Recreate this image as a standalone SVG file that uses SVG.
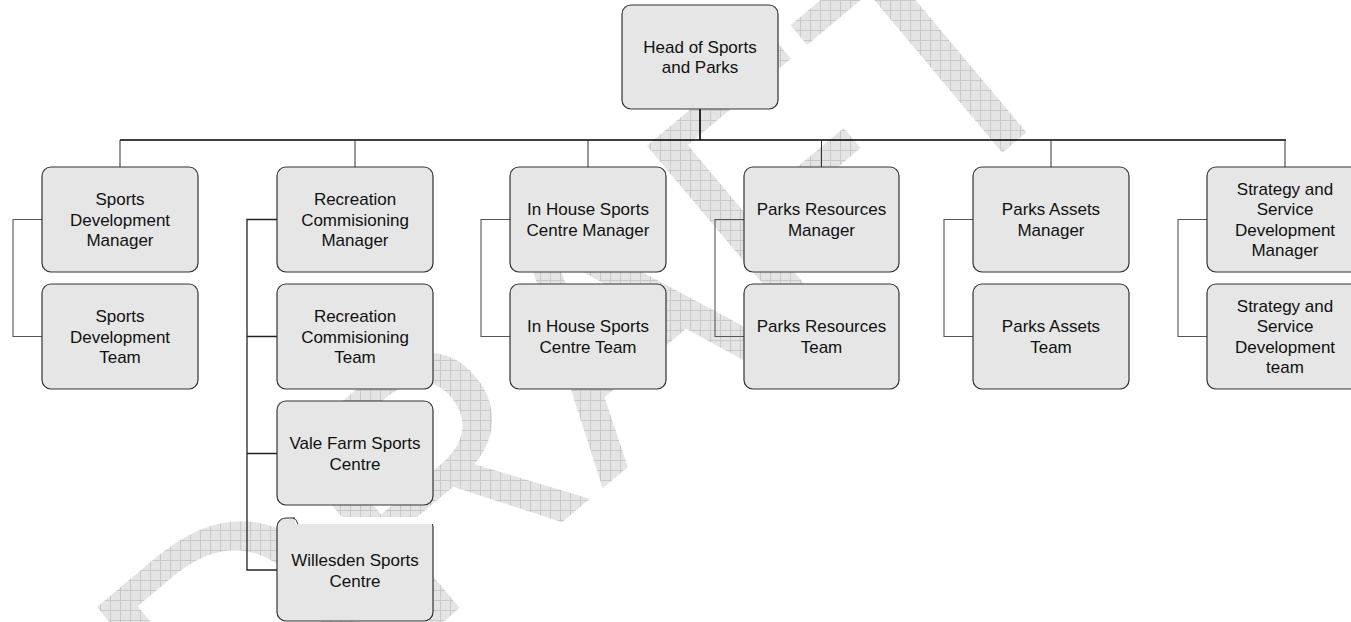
<svg xmlns="http://www.w3.org/2000/svg" width="1351" height="622" viewBox="0 0 1351 622">
<defs>
<pattern id="grid" width="10" height="10" patternUnits="userSpaceOnUse" patternTransform="rotate(40)">
<rect width="10" height="10" fill="#e4e4e4"/>
<path d="M0 0.5H10M0.5 0V10" stroke="#c9c9c9" stroke-width="1"/>
</pattern>
<style>
.box{fill:#e6e6e6;stroke:#333;stroke-width:1.2}
.lbl{font-family:"Liberation Sans",Arial,sans-serif;font-size:17px;fill:#111;text-anchor:middle}
.trunk{stroke:#000;stroke-width:1.6;fill:none}
.drop{stroke:#333;stroke-width:1;fill:none}
.side{stroke:#555;stroke-width:1.1;fill:none}
.wm{font-family:"Liberation Sans",Arial,sans-serif;font-size:340px;fill:url(#grid)}
</style>
</defs>
<rect width="1351" height="622" fill="#fff"/>
<g id="watermark">
<text class="wm" x="0" y="0" text-anchor="middle" transform="translate(660,440) rotate(-40)">DRAFT</text>
</g>
<g id="connectors">
<path class="trunk" d="M700 109V140M120 140H1286"/>
<path class="drop" d="M120 140V167M355 140V167M588 140V167M821.5 140V167M1051 140V167M1285 140V167"/>
<path class="side" d="M42 219.5H13V336.5H42"/>
<path class="side" style="stroke:#222;stroke-width:1.3" d="M277 219.5H247V570H277M247 336.5H277M247 453.5H277"/>
<path class="side" d="M510 219.5H481V336.5H510"/>
<path class="side" d="M744 219.5H715V336.5H744"/>
<path class="side" d="M973 219.5H944V336.5H973"/>
<path class="side" d="M1207 219.5H1178V336.5H1207"/>
</g>
<g id="n-head"><rect class="box" x="622" y="5" width="156" height="104" rx="9"/>
<text class="lbl" x="700" y="52.5">Head of Sports</text><text class="lbl" x="700" y="73">and Parks</text></g>

<g id="n-sdm"><rect class="box" x="42" y="167" width="156" height="105" rx="9"/>
<text class="lbl" x="120" y="205">Sports</text><text class="lbl" x="120" y="225.5">Development</text><text class="lbl" x="120" y="246">Manager</text></g>
<g id="n-sdt"><rect class="box" x="42" y="284" width="156" height="105" rx="9"/>
<text class="lbl" x="120" y="322">Sports</text><text class="lbl" x="120" y="342.5">Development</text><text class="lbl" x="120" y="363">Team</text></g>

<g id="n-rcm"><rect class="box" x="277" y="167" width="156" height="105" rx="9"/>
<text class="lbl" x="355" y="205">Recreation</text><text class="lbl" x="355" y="225.5">Commisioning</text><text class="lbl" x="355" y="246">Manager</text></g>
<g id="n-rct"><rect class="box" x="277" y="284" width="156" height="105" rx="9"/>
<text class="lbl" x="355" y="322">Recreation</text><text class="lbl" x="355" y="342.5">Commisioning</text><text class="lbl" x="355" y="363">Team</text></g>
<g id="n-vale"><rect class="box" x="277" y="401" width="156" height="104" rx="9"/>
<text class="lbl" x="355" y="449">Vale Farm Sports</text><text class="lbl" x="355" y="469.5">Centre</text></g>
<g id="n-willesden"><rect class="box" x="277" y="518" width="156" height="103" rx="9"/>
<rect x="295" y="517" width="141" height="7" fill="#fff"/>
<path d="M293 518Q296 518 298 524" stroke="#333" stroke-width="1" fill="none"/>
<text class="lbl" x="355" y="566">Willesden Sports</text><text class="lbl" x="355" y="586.5">Centre</text></g>

<g id="n-ihm"><rect class="box" x="510" y="167" width="156" height="105" rx="9"/>
<text class="lbl" x="588" y="215">In House Sports</text><text class="lbl" x="588" y="235.5">Centre Manager</text></g>
<g id="n-iht"><rect class="box" x="510" y="284" width="156" height="105" rx="9"/>
<text class="lbl" x="588" y="332">In House Sports</text><text class="lbl" x="588" y="352.5">Centre Team</text></g>

<g id="n-prm"><rect class="box" x="744" y="167" width="155" height="105" rx="9"/>
<text class="lbl" x="821.5" y="215">Parks Resources</text><text class="lbl" x="821.5" y="235.5">Manager</text></g>
<g id="n-prt"><rect class="box" x="744" y="284" width="155" height="105" rx="9"/>
<text class="lbl" x="821.5" y="332">Parks Resources</text><text class="lbl" x="821.5" y="352.5">Team</text></g>

<g id="n-pam"><rect class="box" x="973" y="167" width="156" height="105" rx="9"/>
<text class="lbl" x="1051" y="215">Parks Assets</text><text class="lbl" x="1051" y="235.5">Manager</text></g>
<g id="n-pat"><rect class="box" x="973" y="284" width="156" height="105" rx="9"/>
<text class="lbl" x="1051" y="332">Parks Assets</text><text class="lbl" x="1051" y="352.5">Team</text></g>

<g id="n-ssm"><rect class="box" x="1207" y="167" width="156" height="105" rx="9"/>
<text class="lbl" x="1285" y="194.5">Strategy and</text><text class="lbl" x="1285" y="215">Service</text><text class="lbl" x="1285" y="235.5">Development</text><text class="lbl" x="1285" y="256">Manager</text></g>
<g id="n-sst"><rect class="box" x="1207" y="284" width="156" height="105" rx="9"/>
<text class="lbl" x="1285" y="311.5">Strategy and</text><text class="lbl" x="1285" y="332">Service</text><text class="lbl" x="1285" y="352.5">Development</text><text class="lbl" x="1285" y="373">team</text></g>
</svg>
